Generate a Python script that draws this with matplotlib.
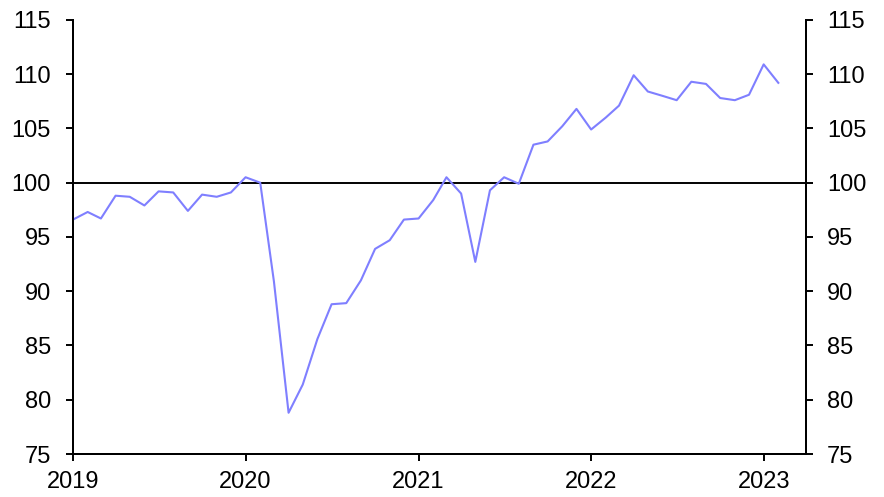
import datetime as dt
import matplotlib
matplotlib.use("Agg")
import matplotlib.pyplot as plt
import pandas as pd

# monthly index, Jan 2019 - Feb 2023
months = pd.date_range("2019-01-01", "2023-02-01", freq="MS")
values = [
    96.6, 97.3, 96.7, 98.8, 98.7, 97.9, 99.2, 99.1, 97.4, 98.9, 98.7, 99.1,   # 2019
    100.5, 100.0, 90.9, 78.8, 81.4, 85.6, 88.8, 88.9, 91.0, 93.9, 94.7, 96.6,  # 2020
    96.7, 98.4, 100.5, 99.0, 92.7, 99.3, 100.5, 99.9, 103.5, 103.8, 105.2, 106.8,  # 2021
    104.9, 106.0, 107.1, 109.9, 108.4, 108.0, 107.6, 109.3, 109.1, 107.8, 107.6, 108.1,  # 2022
    110.9, 109.2,  # 2023
]
year_ticks = [dt.date(y, 1, 1) for y in range(2019, 2024)]
year_labels = [str(d.year) for d in year_ticks]
y_ticks = list(range(75, 116, 5))

plt.rcParams["font.family"] = ["Liberation Sans", "DejaVu Sans"]
plt.rcParams["font.size"] = 17

fig, ax = plt.subplots(figsize=(8.84, 4.97), dpi=100)
fig.subplots_adjust(left=0.0826, right=0.912, top=0.96, bottom=0.0865)

ax.plot(months, values, color="#7f7fff", lw=1.5, zorder=3)
ax.axhline(100, color="black", lw=1.4, zorder=2)

ax.set_ylim(75, 115)
ax.set_xlim(dt.date(2019, 1, 1), dt.date(2023, 4, 1))
ax.set_yticks(y_ticks)
ax.set_xticks(year_ticks)
ax.set_xticklabels(year_labels)

ax2 = ax.twinx()
ax2.set_ylim(75, 115)
ax2.set_yticks(y_ticks)

for a in (ax, ax2):
    a.spines["top"].set_visible(False)
    for s in ("left", "right", "bottom"):
        a.spines[s].set_linewidth(1.4)
    a.tick_params(width=1.4, length=5, direction="out", labelsize=17)

ax.tick_params(axis="y", pad=11)
ax2.tick_params(axis="y", pad=10)
ax.tick_params(axis="x", pad=7)

fig.savefig("out.png", dpi=100)
